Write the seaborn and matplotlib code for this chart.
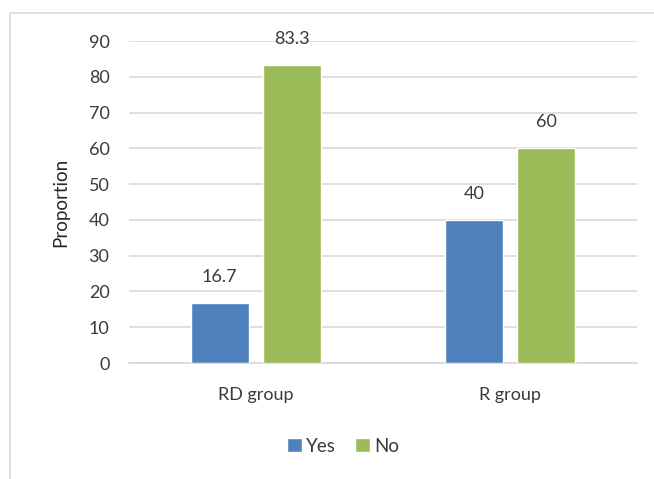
import matplotlib
matplotlib.use("Agg")
import matplotlib.pyplot as plt
import seaborn as sns
import pandas as pd
from matplotlib.lines import Line2D

groups = ["RD group", "R group"]
answers = ["Yes", "No"]
yes_values = [16.7, 40]
no_values = [83.3, 60]
yticks = [0, 10, 20, 30, 40, 50, 60, 70, 80, 90]
colors = ["#4F81BD", "#9BBB59"]

df = pd.DataFrame({
    "group": groups * 2,
    "answer": ["Yes"] * len(groups) + ["No"] * len(groups),
    "value": yes_values + no_values,
})

sns.set_theme(style="white")
plt.rcParams["font.family"] = ["Lato", "DejaVu Sans"]

fig = plt.figure(figsize=(6.54, 4.79), dpi=100)
ax = fig.add_axes([129 / 654, 1 - 363 / 479, 508 / 654, 322 / 479])

sns.barplot(data=df, x="group", y="value", hue="answer", hue_order=answers,
            order=groups, palette=colors, width=0.57, gap=0.2,
            saturation=1, ax=ax, legend=True, zorder=3)

ax.set_ylim(0, 90)
ax.set_yticks(yticks)
ax.set_xlim(-0.5, 1.5)
ax.grid(axis="y", color="#D9D9D9", linewidth=1.2, zorder=0)
ax.set_axisbelow(True)
for s in ["top", "right", "left"]:
    ax.spines[s].set_visible(False)
ax.spines["bottom"].set_color("#D9D9D9")
ax.spines["bottom"].set_linewidth(1.2)
ax.tick_params(axis="both", length=0, labelsize=13, colors="#3A3A3A")
ax.tick_params(axis="x", pad=17)
ax.tick_params(axis="y", pad=14)
ax.set_xlabel("")
ax.set_ylabel("Proportion", fontsize=13.5, color="#262626", labelpad=14)

for c in ax.containers:
    ax.bar_label(c, labels=[f"{v:g}" for v in c.datavalues], padding=13,
                 fontsize=13, color="#3A3A3A")

leg = ax.legend(loc="center", bbox_to_anchor=(343 / 654, 1 - 446 / 479),
                bbox_transform=fig.transFigure, ncol=2, frameon=False,
                fontsize=13.5, handlelength=0.8, handleheight=0.8,
                handletextpad=0.25, columnspacing=1.0)
for t in leg.get_texts():
    t.set_color("#3A3A3A")

fig.add_artist(Line2D([10 / 654, 10 / 654], [0, 1 - 13 / 479],
                      transform=fig.transFigure, color="#D9D9D9", linewidth=1.2))
fig.add_artist(Line2D([10 / 654, 1], [1 - 13 / 479, 1 - 13 / 479],
                      transform=fig.transFigure, color="#D9D9D9", linewidth=1.2))

fig.savefig("out.png", dpi=100)
